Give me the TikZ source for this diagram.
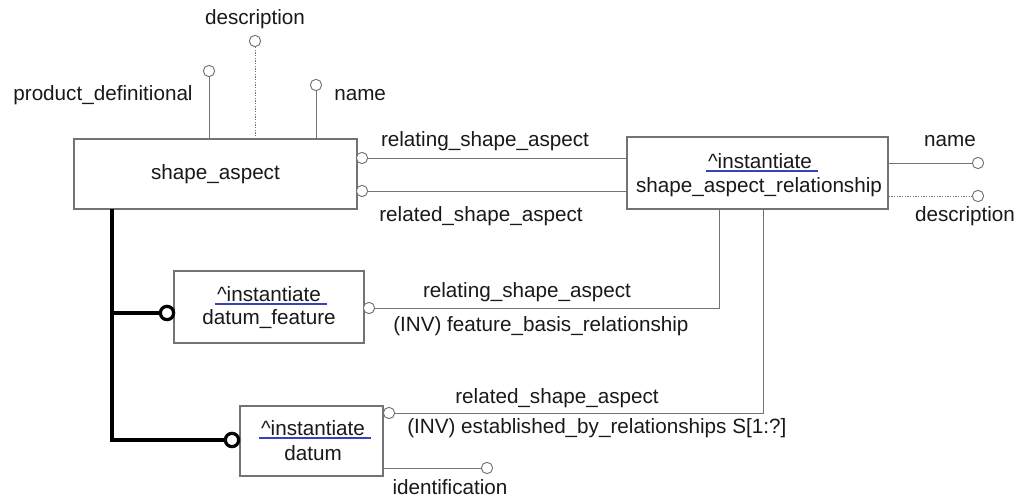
\documentclass[tikz,border=0pt]{standalone}
\usepackage{fontspec}
\setmainfont{Liberation Sans}
\usetikzlibrary{positioning,calc}
\definecolor{lgray}{RGB}{115,115,115}
\definecolor{txt}{RGB}{25,25,25}
\definecolor{ublue}{RGB}{55,65,185}

\begin{document}
\begin{tikzpicture}[x=0.75pt, y=-0.75pt,
    font=\fontsize{15.5}{18}\selectfont,
    ent/.style={draw=lgray, line width=0.8pt, fill=white, inner sep=0pt},
    attr/.style={circle, draw=lgray, fill=white, line width=0.7pt,
      minimum size=8.5pt, inner sep=0pt},
    sub/.style={circle, draw=black, line width=2.4pt, fill=white,
      minimum size=10pt, inner sep=0pt},
    link/.style={draw=lgray, line width=0.7pt},
    opt/.style={link, dash pattern=on 1pt off 1pt},
    tree/.style={draw=black, line width=2.6pt},
    lbl/.style={inner sep=0pt, text=txt},
    uline/.style={draw=ublue, line width=1.6pt}]
  \useasboundingbox (0,0) rectangle (1018,498);

  % entities
  \node[ent, minimum width=212.25pt, minimum height=52.5pt] (sa) at (215.5,174) {};
  \node[ent, minimum width=195.75pt, minimum height=54pt] (sar) at (757.5,173) {};
  \node[ent, minimum width=142.5pt, minimum height=54pt] (df) at (269,307) {};
  \node[ent, minimum width=107.25pt, minimum height=52.5pt] (dt) at (311.5,441) {};

  \node[lbl] (saname) at (sa.center) {shape\_aspect};
  \node[lbl] (sari) at (760,161) {\textasciicircum instantiate};
  \node[lbl] (sarname) at (759,187) {shape\_aspect\_relationship};
  \node[lbl] (dfi) at (269,294) {\textasciicircum instantiate};
  \node[lbl] (dfname) at (269,319) {datum\_feature};
  \node[lbl] (dti) at (313,428) {\textasciicircum instantiate};
  \node[lbl] (dtname) at (313,453) {datum};
  \foreach \n in {sari,dfi,dti}
    \draw[uline] ([xshift=-1.5pt,yshift=-2pt]\n.base west)
      -- ([xshift=4pt,yshift=-2pt]\n.base east);

  % attributes of shape_aspect
  \node[attr] (sapd) at (209,71) {};
  \node[attr] (sadesc) at (255,41) {};
  \node[attr] (saname2) at (316,85) {};
  \draw[link] (sapd) -- (sapd |- sa.north);
  \draw[opt] (sadesc) -- (sadesc |- sa.north);
  \draw[link] (saname2) -- (saname2 |- sa.north);
  \node[lbl] (sapdl) at (103,95) {product\_definitional};
  \node[lbl] (sadescl) at (255,19) {description};
  \node[lbl, anchor=west] (sanamel) at (334,95) {name};

  % relating / related
  \node[attr] (sarel1) at (362,158) {};
  \node[attr] (sarel2) at (362,191) {};
  \draw[link] (sarel1) -- (sarel1 -| sar.west);
  \draw[link] (sarel2) -- (sarel2 -| sar.west);
  \node[lbl] (rel1l) at (485,141) {relating\_shape\_aspect};
  \node[lbl] (rel2l) at (481,216) {related\_shape\_aspect};

  % attributes of shape_aspect_relationship
  \node[attr] (sarnm) at (978,163) {};
  \node[attr] (sards) at (978,196) {};
  \draw[link] (sarnm -| sar.east) -- (sarnm);
  \draw[opt] (sards -| sar.east) -- (sards);
  \node[lbl] (sarnml) at (950,141) {name};
  \node[lbl] (sardsl) at (965,216) {description};

  % inverse relations
  \coordinate (sarA) at (719,209);
  \coordinate (sarB) at (763,209);
  \node[attr] (dfc) at (369,308) {};
  \draw[link] (dfc) -| (sarA);
  \node[lbl] (dfl1) at (527,292) {relating\_shape\_aspect};
  \node[lbl, anchor=west] (dfl2) at (393,326) {(INV) feature\_basis\_relationship};
  \node[attr] (dtc) at (389,413) {};
  \draw[link] (dtc) -| (sarB);
  \node[lbl] (dtl1) at (557,398) {related\_shape\_aspect};
  \node[lbl, anchor=west] (dtl2) at (407,428) {(INV) established\_by\_relationships S[1:?]};
  \node[attr] (dtid) at (487,468) {};
  \draw[link] (dtid -| dt.east) -- (dtid);
  \node[lbl] (dtidl) at (450,487) {identification};

  % subtypes
  \coordinate (trunk) at (112,209);
  \node[sub] (dfs) at (167,313) {};
  \node[sub] (dts) at (232,440) {};
  \draw[tree] (trunk) |- (dts);
  \draw[tree] (trunk |- dfs) -- (dfs);
\end{tikzpicture}
\end{document}
